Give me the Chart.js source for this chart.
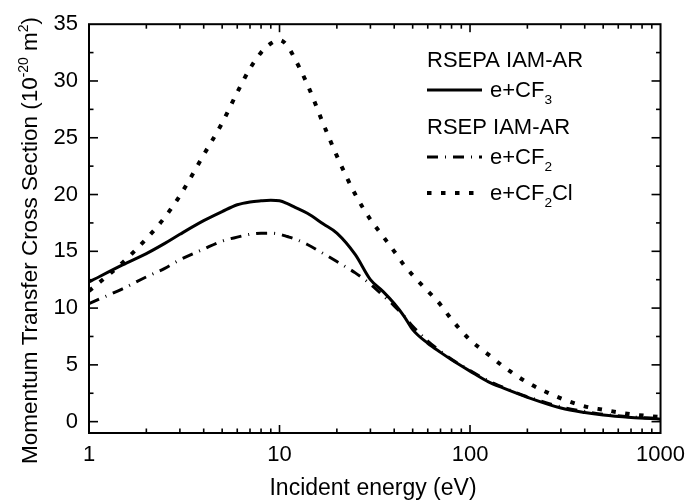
<!DOCTYPE html>
<html>
<head>
<meta charset="utf-8">
<script src="https://cdn.jsdelivr.net/npm/chart.js@4"></script>
<style>
  body { margin: 0; background: #fff; }
  #wrap { width: 694px; height: 500px; position: relative; }
</style>
</head>
<body>
<div id="wrap"><canvas id="grafico"></canvas></div>
<script>
// energias (eV) e secoes de choque (10^-20 m^2)
const energias = [1, 1.5, 2, 2.5, 3, 4, 5, 6, 7, 8, 9, 10, 11, 12, 14, 17, 20, 25, 30, 35, 40, 45, 50, 60, 70, 80, 100, 125, 150, 200, 300, 400, 500, 700, 1000];
const cf3 = [12.3, 13.8, 14.8, 15.7, 16.5, 17.7, 18.5, 19.1, 19.35, 19.45, 19.5, 19.45, 19.2, 18.9, 18.35, 17.4, 16.6, 14.7, 12.5, 11.45, 10.4, 9.3, 8.1, 6.9, 6.1, 5.45, 4.45, 3.5, 2.95, 2.15, 1.2, 0.8, 0.58, 0.37, 0.22];
const cf2 = [10.4, 11.7, 12.75, 13.5, 14.25, 15.2, 15.9, 16.25, 16.5, 16.6, 16.6, 16.5, 16.3, 16.1, 15.6, 14.8, 14.1, 13.1, 12.1, 11.1, 10.2, 9.3, 8.4, 7.1, 6.2, 5.5, 4.5, 3.6, 3.0, 2.2, 1.3, 0.9, 0.65, 0.42, 0.28];
const cf2cl = [11.5, 14.0, 16.1, 18.0, 19.9, 23.5, 26.3, 29.0, 31.1, 32.5, 33.3, 33.6, 33.1, 32.0, 29.7, 26.2, 23.4, 20.0, 17.8, 16.3, 15.0, 13.8, 12.9, 11.5, 10.3, 9.0, 7.2, 5.9, 4.85, 3.45, 2.05, 1.35, 1.05, 0.65, 0.4];
const rotulosX = [1, 10, 100, 1000];

const FONTE = 'Liberation Sans, Arial, sans-serif';

function pontos(valores) {
    return energias.map((e, i) => ({ x: e, y: valores[i] }));
}

// desenha texto com partes em subscrito / sobrescrito
function larguraRica(ctx, partes, tam) {
    let w = 0;
    partes.forEach(p => {
        ctx.font = (p[1] ? tam * 0.62 : tam) + 'px ' + FONTE;
        w += ctx.measureText(p[0]).width;
    });
    return w;
}
function textoRico(ctx, partes, x, y, tam) {
    partes.forEach(p => {
        ctx.font = (p[1] ? tam * 0.62 : tam) + 'px ' + FONTE;
        let dy = 0;
        if (p[1] === 'sub') dy = tam * 0.3;
        if (p[1] === 'sup') dy = -tam * 0.42;
        ctx.fillText(p[0], x, y + dy);
        x += ctx.measureText(p[0]).width;
    });
}

const TRACO_PONTO = [11, 7, 1, 7];
const PONTILHADO = [4.5, 9.5];

// moldura, marcas para dentro, titulos e legenda
const extras = {
    id: 'extras',
    afterDraw(chart) {
        const ctx = chart.ctx;
        const a = chart.chartArea;
        const sx = chart.scales.x, sy = chart.scales.y;
        ctx.save();
        ctx.setLineDash([]);
        ctx.strokeStyle = '#000';
        ctx.fillStyle = '#000';

        // marcas (para dentro) em cima e embaixo: 2..9 de cada decada
        for (let dec = 1; dec < 1000; dec *= 10) {
            for (let k = 1; k <= 9; k++) {
                const v = k * dec;
                if (v <= 1) continue;
                const p = sx.getPixelForValue(v);
                const len = k === 1 ? 8 : 4.5;
                ctx.fillRect(p - 0.8, a.bottom - len, 1.6, len);
                ctx.fillRect(p - 0.8, a.top, 1.6, len);
            }
        }
        // marcas a esquerda e a direita, a cada 2.5
        for (let v = 0; v < 35; v += 2.5) {
            const p = sy.getPixelForValue(v);
            const len = (v % 5 === 0) ? 9 : 4.5;
            ctx.fillRect(a.left, p - 0.8, len, 1.6);
            ctx.fillRect(a.right - len, p - 0.8, len, 1.6);
        }

        ctx.lineWidth = 2;
        ctx.strokeRect(a.left, a.top, a.right - a.left, a.bottom - a.top);

        // titulo eixo x
        ctx.textBaseline = 'alphabetic';
        ctx.textAlign = 'left';
        const tx = [['Incident energy (eV)', '']];
        const wx = larguraRica(ctx, tx, 23);
        textoRico(ctx, tx, 373 - wx / 2, 495, 23);

        // titulo eixo y
        const ty = [['Momentum Transfer Cross Section (10', ''], ['-20', 'sup'], [' m', ''], ['2', 'sup'], [')', '']];
        const wy = larguraRica(ctx, ty, 22.5);
        ctx.save();
        ctx.translate(37, 240.5 + wy / 2);
        ctx.rotate(-Math.PI / 2);
        textoRico(ctx, ty, 0, 0, 22.5);
        ctx.restore();

        // legenda
        textoRico(ctx, [['RSEPA IAM-AR', '']], 427, 66.5, 22);
        textoRico(ctx, [['RSEP IAM-AR', '']], 427, 133.5, 22);
        const itens = [
            { y: 90, dash: [], lw: 3, txt: [['e+CF', ''], ['3', 'sub']] },
            { y: 157, dash: TRACO_PONTO, lw: 3, txt: [['e+CF', ''], ['2', 'sub']] },
            { y: 193, dash: PONTILHADO, lw: 4, txt: [['e+CF', ''], ['2', 'sub'], ['Cl', '']] }
        ];
        itens.forEach(it => {
            ctx.lineWidth = it.lw;
            ctx.setLineDash(it.dash);
            ctx.beginPath();
            ctx.moveTo(427, it.y); ctx.lineTo(482, it.y);
            ctx.stroke();
            ctx.setLineDash([]);
            textoRico(ctx, it.txt, 490, it.y + 7, 22);
        });
        ctx.restore();
    }
};

const config = {
    type: 'line',
    data: {
        datasets: [
            {
                label: 'e+CF2Cl',
                data: pontos(cf2cl),
                borderColor: '#000',
                borderWidth: 4,
                borderDash: PONTILHADO
            },
            {
                label: 'e+CF2',
                data: pontos(cf2),
                borderColor: '#000',
                borderWidth: 3,
                borderDash: TRACO_PONTO
            },
            {
                label: 'e+CF3',
                data: pontos(cf3),
                borderColor: '#000',
                borderWidth: 3
            }
        ]
    },
    options: {
        responsive: true,
        maintainAspectRatio: false,
        animation: false,
        cubicInterpolationMode: 'monotone',
        elements: { point: { radius: 0 } },
        layout: { padding: { left: 0, right: 25, top: 22, bottom: 0 } },
        plugins: {
            legend: { display: false },
            tooltip: { enabled: false }
        },
        scales: {
            x: {
                type: 'logarithmic',
                min: 1,
                max: 1000,
                grid: { display: false, drawTicks: false },
                border: { display: false },
                afterFit: s => { s.height = 67; },
                ticks: {
                    autoSkip: false,
                    maxRotation: 0,
                    padding: 9,
                    color: '#000',
                    font: { size: 22, family: FONTE },
                    callback: v => rotulosX.includes(v) ? String(v) : ''
                }
            },
            y: {
                min: -1,
                max: 35,
                grid: { display: false, drawTicks: false },
                border: { display: false },
                afterFit: s => { s.width = 89; },
                ticks: {
                    stepSize: 2.5,
                    includeBounds: false,
                    padding: 11,
                    color: '#000',
                    font: { size: 22, family: FONTE },
                    callback: v => (v % 5 === 0) ? String(v) : ''
                }
            }
        }
    },
    plugins: [extras]
};

document.addEventListener('DOMContentLoaded', function() {
    const ctx = document.getElementById('grafico').getContext('2d');
    new Chart(ctx, config);
});
</script>
</body>
</html>
